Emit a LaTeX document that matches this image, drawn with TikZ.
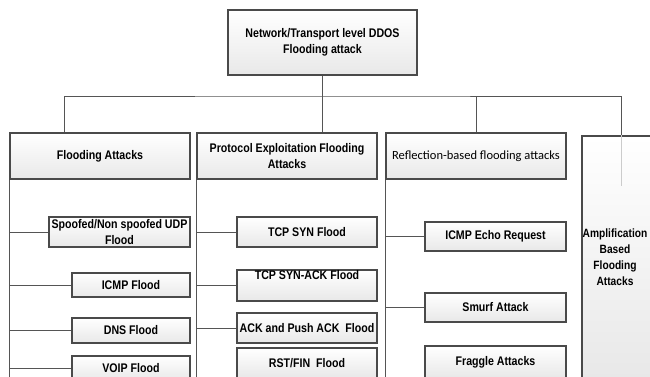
\documentclass[tikz,border=0pt]{standalone}
\usepackage{fontspec}
\setmainfont{Liberation Sans}[FakeStretch=0.85]
\newfontfamily\reflfont{Carlito}
\usepackage{tikz}
\usepackage{xcolor}
\definecolor{edgegray}{HTML}{4A4A4A}
\definecolor{linkgray}{HTML}{555555}

\begin{document}
\begin{tikzpicture}[x=1pt, y=-1pt,
    box/.style = {draw=edgegray, line width=1.1pt, top color=white, bottom color=black!9,
                  align=center, inner sep=0pt, font=\bfseries\fontsize{12.5}{16}\selectfont},
    link/.style = {draw=linkgray, line width=0.9pt}]
        \useasboundingbox (0,0) rectangle (650,376);
        \clip (0,0) rectangle (650,376);
        \fill[white] (0,0) rectangle (650,376);
        % root and first level
        \node[box, minimum width=189pt, minimum height=65pt] (root) at (322.5,42.5) {Network/Transport level DDOS\\Flooding attack};
        \node[box, minimum width=180pt, minimum height=46pt] (flood) at (100,156) {Flooding Attacks};
        \node[box, minimum width=180pt, minimum height=46pt] (proto) at (287,156) {Protocol Exploitation Flooding\\Attacks};
        \node[box, minimum width=180pt, minimum height=46pt, font=\reflfont\fontsize{12.5}{16}\selectfont] (refl) at (476,156) {Reflection-based flooding attacks};
        \node[box, minimum width=72pt, minimum height=242pt] (amp) at (618,257) {};
        \node[align=center, inner sep=0pt, font=\bfseries\fontsize{12}{16}\selectfont] (amptext) at (615,257) {Amplification\\Based\\Flooding\\Attacks};
        \coordinate (bus) at (322.5,96);
        \coordinate (bot) at (0,380);
        \draw[link] (root) -- (bus);
        \draw[link] ([xshift=-36pt]flood.north) |- (bus) -| ([xshift=3pt]amp.north);
        \draw[link] (bus) -- (bus |- proto.north);
        \draw[link] (refl.north) -- (refl.north |- bus);
        \draw[draw=black!20, line width=0.9pt] ([xshift=3pt]amp.north) -- ++(0,51);
        % flooding attacks
        \node[box, minimum width=141pt, minimum height=30pt] (udp) at (119.5,232) {Spoofed/Non spoofed UDP\\Flood};
        \node[box, minimum width=118pt, minimum height=24pt] (icmp) at (131,285) {ICMP Flood};
        \node[box, minimum width=118pt, minimum height=25pt] (dns) at (131,330.5) {DNS Flood};
        \node[box, minimum width=118pt, minimum height=25pt] (voip) at (131,368.5) {VOIP Flood};
        \draw[link] (flood.south west) -- (flood.south west |- bot);
        \foreach \n in {udp,icmp,dns,voip}
            \draw[link] (\n.west) -- (\n.west -| flood.south west);
        % protocol exploitation
        \node[box, minimum width=140pt, minimum height=30pt] (syn) at (307,232) {TCP SYN Flood};
        \node[box, minimum width=140pt, minimum height=31pt] (synack) at (307,285.5) {TCP SYN-ACK Flood\\\strut};
        \node[box, minimum width=140pt, minimum height=30pt] (ackpush) at (307,328) {ACK and Push ACK~~Flood};
        \node[box, minimum width=140pt, minimum height=30pt] (rstfin) at (307,363) {RST/FIN~~Flood};
        \draw[link] (proto.south west) -- (proto.south west |- bot);
        \foreach \n in {syn,synack,ackpush}
            \draw[link] (\n.west) -- (\n.west -| proto.south west);
        % reflection based
        \node[box, minimum width=141pt, minimum height=29pt] (echo) at (495.5,236.5) {ICMP Echo Request};
        \node[box, minimum width=141pt, minimum height=29pt] (smurf) at (495.5,307.5) {Smurf Attack};
        \node[box, minimum width=141pt, minimum height=32pt] (fraggle) at (495.5,362) {Fraggle Attacks};
        \draw[link] (refl.south west) -- (refl.south west |- bot);
        \foreach \n in {echo,smurf}
            \draw[link] (\n.west) -- (\n.west -| refl.south west);
    \end{tikzpicture}
\end{document}
